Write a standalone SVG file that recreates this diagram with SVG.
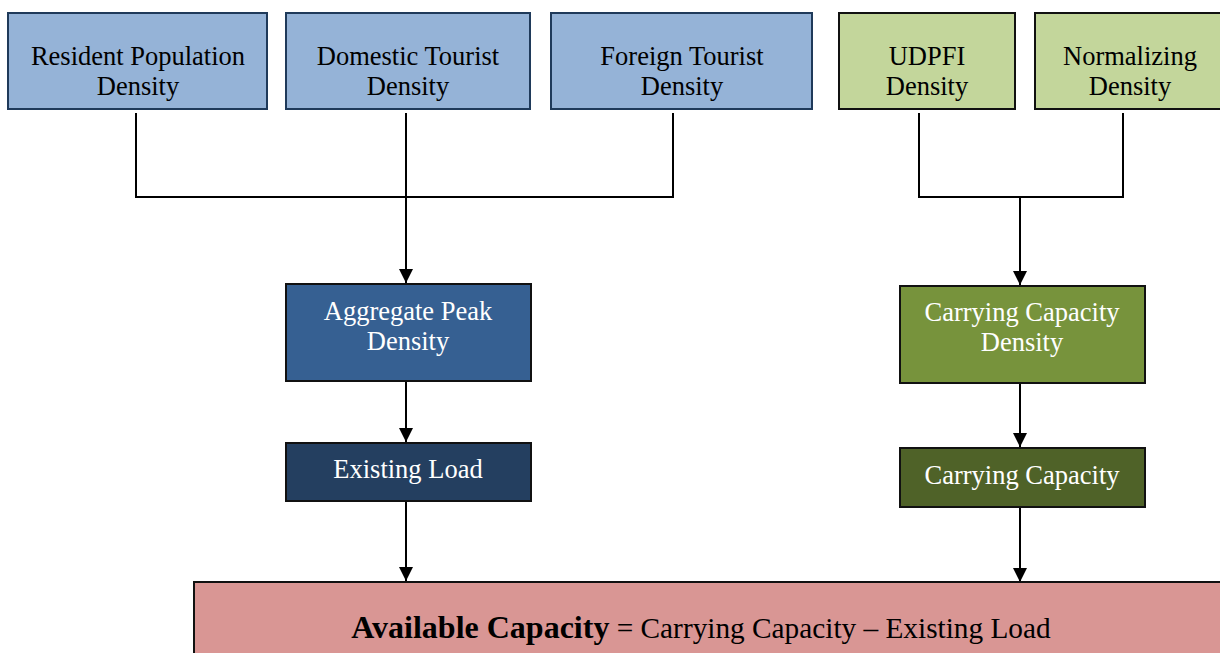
<svg xmlns="http://www.w3.org/2000/svg" width="1220" height="653" viewBox="0 0 1220 653">
<defs>
<style>
.t{font-family:"Liberation Serif","Times New Roman",serif;font-size:26.5px;text-anchor:middle;fill:#000}
.w{fill:#fff}
.bl{fill:#95B3D7;stroke:#1F3A5A;stroke-width:2}
.gr{fill:#C3D69B;stroke:#111;stroke-width:2}
.ln{stroke:#000;stroke-width:2;fill:none}
</style>
<marker id="ah2" viewBox="0 0 14 14" refX="14" refY="7" markerWidth="14" markerHeight="14" markerUnits="userSpaceOnUse" orient="auto">
<path d="M0,0 L14,7 L0,14 z" fill="#000"/>
</marker>
</defs>
<rect width="1220" height="653" fill="#fff"/>
<g id="connectors">
<polyline class="ln" points="136,113 136,197 673,197 673,113"/>
<line class="ln" x1="406" y1="113" x2="406" y2="283" marker-end="url(#ah2)"/>
<polyline class="ln" points="919,113 919,197 1123,197 1123,113"/>
<line class="ln" x1="1020" y1="197" x2="1020" y2="285" marker-end="url(#ah2)"/>
<line class="ln" x1="406" y1="381" x2="406" y2="442" marker-end="url(#ah2)"/>
<line class="ln" x1="406" y1="501" x2="406" y2="581" marker-end="url(#ah2)"/>
<line class="ln" x1="1020" y1="384" x2="1020" y2="447" marker-end="url(#ah2)"/>
<line class="ln" x1="1020" y1="507" x2="1020" y2="582" marker-end="url(#ah2)"/>
</g>
<g id="resident">
<rect class="bl" x="8" y="13" width="259" height="96"/>
<text class="t" x="138" y="65">Resident Population</text>
<text class="t" x="138" y="95">Density</text>
</g>
<g id="domestic">
<rect class="bl" x="286" y="13" width="244" height="96"/>
<text class="t" x="408" y="65">Domestic Tourist</text>
<text class="t" x="408" y="95">Density</text>
</g>
<g id="foreign">
<rect class="bl" x="551" y="13" width="261" height="96"/>
<text class="t" x="682" y="65">Foreign Tourist</text>
<text class="t" x="682" y="95">Density</text>
</g>
<g id="udpfi">
<rect class="gr" x="839" y="13" width="176" height="96"/>
<text class="t" x="927" y="65">UDPFI</text>
<text class="t" x="927" y="95">Density</text>
</g>
<g id="normalizing">
<rect class="gr" x="1035" y="13" width="195" height="96"/>
<text class="t" x="1130" y="65">Normalizing</text>
<text class="t" x="1130" y="95">Density</text>
</g>
<g id="aggregate">
<rect x="286" y="284" width="245" height="97" fill="#366092" stroke="#111" stroke-width="2"/>
<text class="t w" x="408" y="320">Aggregate Peak</text>
<text class="t w" x="408" y="350">Density</text>
</g>
<g id="existing">
<rect x="286" y="443" width="245" height="58" fill="#243F60" stroke="#111" stroke-width="2"/>
<text class="t w" x="408" y="478">Existing Load</text>
</g>
<g id="ccdensity">
<rect x="900" y="286" width="245" height="97" fill="#77933C" stroke="#111" stroke-width="2"/>
<text class="t w" x="1022" y="321">Carrying Capacity</text>
<text class="t w" x="1022" y="351">Density</text>
</g>
<g id="cc">
<rect x="900" y="448" width="245" height="59" fill="#4F6228" stroke="#111" stroke-width="2"/>
<text class="t w" x="1022" y="484">Carrying Capacity</text>
</g>
<g id="available">
<rect x="194" y="582" width="1040" height="80" fill="#D99694" stroke="#111" stroke-width="2"/>
<text class="t" x="701" y="638" style="font-size:29.3px"><tspan font-weight="bold" style="font-size:32px">Available Capacity</tspan> = Carrying Capacity – Existing Load</text>
</g>
</svg>
